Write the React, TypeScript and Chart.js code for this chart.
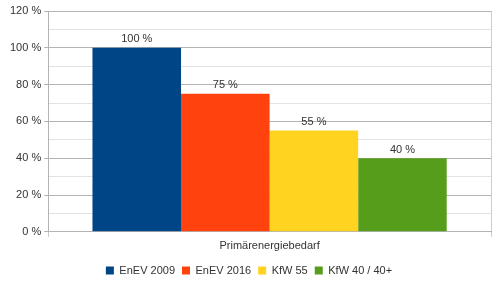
import React, { useEffect, useRef } from "react";
import { Chart, registerables } from "chart.js";

Chart.register(...registerables);

const categories = ["Primärenergiebedarf"];
const seriesNames = ["EnEV 2009", "EnEV 2016", "KfW 55", "KfW 40 / 40+"];
const seriesValues = [[100], [75], [55], [40]];
const seriesColors = ["#004586", "#ff420e", "#ffd320", "#579d1c"];
const yMin = 0;
const yMax = 120;
const yStep = 10;
const yLabelStep = 20;

const valueLabels = {
  id: "valueLabels",
  afterDatasetsDraw(chart: any) {
    const ctx = chart.ctx;
    ctx.save();
    ctx.font = "11px 'Liberation Sans', Arial, sans-serif";
    ctx.fillStyle = "#333333";
    ctx.textAlign = "center";
    ctx.textBaseline = "bottom";
    chart.data.datasets.forEach((ds: any, i: number) => {
      const meta = chart.getDatasetMeta(i);
      meta.data.forEach((el: any, j: number) => {
        ctx.fillText(ds.data[j] + " %", el.x, el.y - 3);
      });
    });
    ctx.restore();
  },
};

export default function App() {
  const ref = useRef<HTMLCanvasElement | null>(null);
  useEffect(() => {
    document.body.style.margin = "0";
    Chart.defaults.font.family = "'Liberation Sans', Arial, sans-serif";
    Chart.defaults.font.size = 11;
    Chart.defaults.color = "#333333";
    const chart = new Chart(ref.current!, {
      type: "bar",
      data: {
        labels: categories,
        datasets: seriesNames.map((name, i) => ({
          label: name,
          data: seriesValues[i],
          backgroundColor: seriesColors[i],
          borderWidth: 0,
          categoryPercentage: 0.8,
          barPercentage: 1.0,
        })),
      },
      options: {
        animation: false,
        responsive: false,
        maintainAspectRatio: false,
        layout: { padding: { left: 7, right: 9, top: 11, bottom: -4 } },
        plugins: {
          legend: {
            position: "bottom",
            labels: { boxWidth: 8, boxHeight: 8, padding: 7, color: "#333333" },
          },
          tooltip: { enabled: false },
        },
        scales: {
          x: {
            grid: { display: true, color: "#cccccc", tickLength: 5, lineWidth: 1 },
            border: { color: "#b3b3b3" },
            ticks: { color: "#333333", padding: 3 },
            afterFit: (scale: any) => {
              scale.height += 2;
            },
          },
          y: {
            min: yMin,
            max: yMax,
            ticks: {
              stepSize: yStep,
              color: "#333333",
              padding: 3,
              callback: (v: any) => (Number(v) % yLabelStep === 0 ? v + " %" : ""),
            },
            grid: {
              color: (c: any) => (c.tick && c.tick.value % yLabelStep === 0 ? "#b3b3b3" : "#e3e3e3"),
              tickColor: (c: any) => (c.tick && c.tick.value % yLabelStep === 0 ? "#b3b3b3" : "rgba(0,0,0,0)"),
              tickLength: 4,
            },
            border: { color: "#b3b3b3" },
          },
        },
      },
      plugins: [valueLabels],
    });
    return () => chart.destroy();
  }, []);
  return (
    <div style={{ width: 500, height: 282 }}>
      <canvas ref={ref} width={500} height={282} style={{ width: 500, height: 282 }} />
    </div>
  );
}
